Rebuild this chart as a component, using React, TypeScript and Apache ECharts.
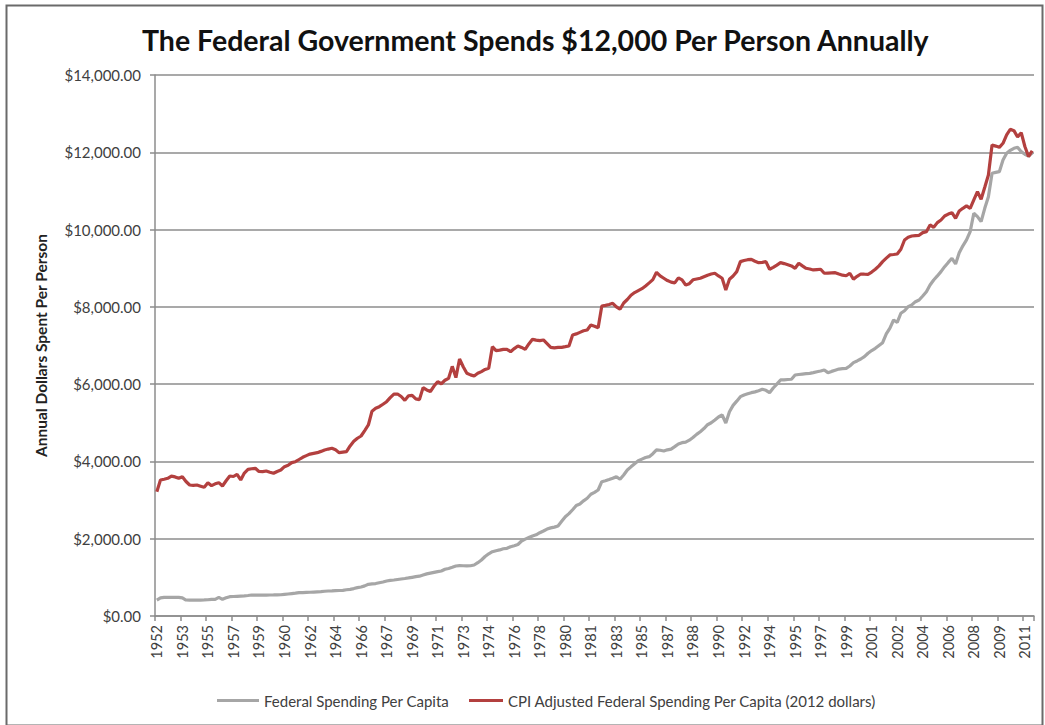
import React, { useEffect, useRef } from "react";
import * as echarts from "echarts";

const TITLE = "The Federal Government Spends $12,000 Per Person Annually";
const Y_NAME = "Annual Dollars Spent Per Person";
const SERIES_NAMES = [
  "Federal Spending Per Capita",
  "CPI Adjusted Federal Spending Per Capita (2012 dollars)",
];
const START_YEAR = 1952;
const QUARTER_COUNT = 241; // 1952 Q1 .. 2012 Q1

// Federal spending per capita (nominal), quarterly
const nominal: number[] = [
  414, 470, 483, 483, // 1952
  483, 483, 483, 470, // 1953
  414, 410, 410, 412, // 1954
  412, 415, 420, 432, // 1955
  432, 483, 432, 470, // 1956
  500, 505, 510, 515, // 1957
  520, 530, 543, 540, // 1958
  543, 540, 540, 543, // 1959
  545, 548, 550, 560, // 1960
  570, 580, 590, 603, // 1961
  605, 610, 615, 620, // 1962
  625, 630, 640, 647, // 1963
  650, 655, 660, 665, // 1964
  680, 690, 710, 733, // 1965
  750, 780, 820, 830, // 1966
  840, 860, 880, 906, // 1967
  920, 932, 945, 958, // 1968
  970, 985, 1001, 1017, // 1969
  1030, 1060, 1090, 1110, // 1970
  1130, 1150, 1165, 1209, // 1971
  1230, 1260, 1294, 1302, // 1972
  1300, 1298, 1300, 1320, // 1973
  1380, 1449, 1540, 1610, // 1974
  1664, 1690, 1710, 1740, // 1975
  1752, 1794, 1820, 1850, // 1976
  1940, 1990, 2030, 2070, // 1977
  2100, 2156, 2200, 2250, // 1978
  2280, 2300, 2329, 2450, // 1979
  2570, 2650, 2750, 2860, // 1980
  2900, 2980, 3046, 3150, // 1981
  3200, 3261, 3476, 3500, // 1982
  3530, 3563, 3605, 3537, // 1983
  3650, 3778, 3860, 3940, // 1984
  4019, 4060, 4100, 4123, // 1985
  4200, 4300, 4290, 4270, // 1986
  4300, 4320, 4382, 4450, // 1987
  4486, 4500, 4550, 4620, // 1988
  4700, 4770, 4850, 4950, // 1989
  5000, 5073, 5150, 5202, // 1990
  4995, 5287, 5450, 5560, // 1991
  5676, 5720, 5750, 5779, // 1992
  5800, 5830, 5867, 5840, // 1993
  5779, 5900, 6000, 6108, // 1994
  6110, 6120, 6126, 6237, // 1995
  6250, 6260, 6270, 6280, // 1996
  6297, 6320, 6340, 6366, // 1997
  6297, 6330, 6360, 6390, // 1998
  6400, 6410, 6470, 6556, // 1999
  6600, 6650, 6711, 6800, // 2000
  6870, 6927, 7000, 7073, // 2001
  7300, 7450, 7660, 7600, // 2002
  7834, 7900, 8005, 8050, // 2003
  8134, 8178, 8280, 8393, // 2004
  8566, 8696, 8800, 8911, // 2005
  9040, 9150, 9257, 9110, // 2006
  9400, 9580, 9731, 9946, // 2007
  10422, 10334, 10205, 10550, // 2008
  10851, 11457, 11480, 11498, // 2009
  11801, 11975, 12050, 12104, // 2010
  12129, 12016, 11950, 11900, // 2011
  11980, // 2012
];

// CPI adjusted federal spending per capita (2012 dollars), quarterly
const cpiAdjusted: number[] = [
  3217, 3520, 3540, 3563, // 1952
  3620, 3600, 3563, 3605, // 1953
  3480, 3390, 3380, 3390, // 1954
  3360, 3330, 3450, 3372, // 1955
  3420, 3450, 3364, 3500, // 1956
  3623, 3610, 3667, 3520, // 1957
  3700, 3796, 3810, 3822, // 1958
  3740, 3735, 3752, 3720, // 1959
  3693, 3740, 3778, 3864, // 1960
  3900, 3968, 3993, 4050, // 1961
  4107, 4150, 4190, 4210, // 1962
  4227, 4260, 4296, 4320, // 1963
  4340, 4300, 4227, 4240, // 1964
  4253, 4400, 4520, 4600, // 1965
  4658, 4800, 4943, 5300, // 1966
  5375, 5417, 5480, 5546, // 1967
  5650, 5740, 5745, 5680, // 1968
  5580, 5700, 5710, 5620, // 1969
  5600, 5910, 5850, 5810, // 1970
  5950, 6064, 6010, 6100, // 1971
  6151, 6460, 6170, 6650, // 1972
  6450, 6281, 6240, 6211, // 1973
  6280, 6323, 6380, 6410, // 1974
  6970, 6866, 6880, 6900, // 1975
  6901, 6840, 6920, 6988, // 1976
  6950, 6901, 7040, 7160, // 1977
  7140, 7125, 7143, 7050, // 1978
  6953, 6940, 6950, 6953, // 1979
  6970, 6988, 7272, 7300, // 1980
  7340, 7380, 7402, 7531, // 1981
  7500, 7460, 8023, 8040, // 1982
  8060, 8092, 8000, 7937, // 1983
  8100, 8190, 8300, 8370, // 1984
  8420, 8470, 8540, 8620, // 1985
  8705, 8895, 8800, 8740, // 1986
  8680, 8640, 8620, 8750, // 1987
  8700, 8566, 8600, 8700, // 1988
  8720, 8740, 8780, 8820, // 1989
  8850, 8869, 8800, 8740, // 1990
  8437, 8714, 8800, 8911, // 1991
  9170, 9200, 9220, 9231, // 1992
  9180, 9144, 9150, 9170, // 1993
  8973, 9020, 9080, 9144, // 1994
  9120, 9090, 9058, 8998, // 1995
  9128, 9060, 8998, 8980, // 1996
  8955, 8965, 8973, 8869, // 1997
  8875, 8880, 8885, 8850, // 1998
  8820, 8805, 8869, 8714, // 1999
  8790, 8851, 8845, 8843, // 2000
  8900, 8973, 9060, 9170, // 2001
  9260, 9343, 9355, 9368, // 2002
  9490, 9731, 9800, 9834, // 2003
  9845, 9852, 9920, 9946, // 2004
  10119, 10059, 10180, 10248, // 2005
  10352, 10400, 10437, 10291, // 2006
  10480, 10550, 10611, 10550, // 2007
  10766, 10981, 10784, 11094, // 2008
  11413, 12190, 12160, 12129, // 2009
  12233, 12448, 12596, 12560, // 2010
  12400, 12507, 12150, 11890, // 2011
  12040, // 2012
];

const categories: string[] = [];
for (let i = 0; i < QUARTER_COUNT; i++) {
  categories.push(`${START_YEAR + Math.floor(i / 4)} Q${(i % 4) + 1}`);
}

const FONT = "Lato, 'Open Sans', sans-serif";
const legendText = { fontFamily: FONT, fontSize: 15, color: "#404040" };

export default function App() {
  const ref = useRef<HTMLDivElement>(null);
  useEffect(() => {
    if (!ref.current) return;
    const chart = echarts.init(ref.current, undefined, { renderer: "svg" });
    chart.setOption({
      animation: false,
      backgroundColor: "#ffffff",
      textStyle: { fontFamily: FONT },
      title: {
        text: TITLE,
        left: 137,
        top: 20,
        textStyle: { fontFamily: FONT, fontSize: 28.5, fontWeight: "bold", color: "#111" },
      },
      graphic: [
        {
          type: "rect",
          left: 4,
          top: 3,
          shape: { width: 1036, height: 720 },
          style: { fill: "none", stroke: "#6a6a6a", lineWidth: 2 },
          silent: true,
        },
      ],
      grid: { left: 155, right: 11, top: 75, bottom: 109, containLabel: false },
      legend: [
        {
          left: 212,
          top: 688,
          icon: "rect",
          itemWidth: 42,
          itemHeight: 3,
          textStyle: legendText,
          data: [SERIES_NAMES[0]],
        },
        {
          left: 464,
          top: 688,
          icon: "rect",
          itemWidth: 34,
          itemHeight: 3,
          textStyle: legendText,
          data: [SERIES_NAMES[1]],
        },
      ],
      xAxis: {
        type: "category",
        data: categories,
        boundaryGap: true,
        axisLine: { show: true, lineStyle: { color: "#8c8c8c", width: 1.5 } },
        axisTick: { show: true, interval: 6, length: 5, lineStyle: { color: "#8c8c8c", width: 1.5 } },
        axisLabel: {
          interval: 6,
          rotate: 90,
          margin: 9,
          fontFamily: FONT,
          fontSize: 14.5,
          color: "#404040",
          formatter: (v: string) => v.slice(0, 4),
        },
        splitLine: { show: false },
      },
      yAxis: {
        type: "value",
        min: 0,
        max: 14000,
        interval: 2000,
        name: Y_NAME,
        nameLocation: "middle",
        nameGap: 106,
        nameRotate: 90,
        nameTextStyle: { fontFamily: FONT, fontSize: 15.5, fontWeight: "bold", color: "#222" },
        axisLine: { show: true, lineStyle: { color: "#8c8c8c", width: 1.5 } },
        axisTick: { show: true, length: 5, lineStyle: { color: "#8c8c8c", width: 1.5 } },
        axisLabel: {
          margin: 14,
          fontFamily: FONT,
          fontSize: 15,
          color: "#404040",
          formatter: (v: number) =>
            "$" + v.toLocaleString("en-US", { minimumFractionDigits: 2, maximumFractionDigits: 2 }),
        },
        splitLine: { show: true, lineStyle: { color: "#8c8c8c", width: 1.5 } },
      },
      series: [
        {
          name: SERIES_NAMES[0],
          type: "line",
          data: nominal,
          symbol: "none",
          color: "#a6a6a6",
          lineStyle: { width: 3.2, color: "#a6a6a6" },
        },
        {
          name: SERIES_NAMES[1],
          type: "line",
          data: cpiAdjusted,
          symbol: "none",
          color: "#b3403f",
          lineStyle: { width: 3.2, color: "#b3403f" },
        },
      ],
    });
    return () => chart.dispose();
  }, []);
  return (
    <div
      ref={ref}
      style={{ position: "fixed", left: 0, top: 0, width: 1045, height: 725 }}
    />
  );
}
